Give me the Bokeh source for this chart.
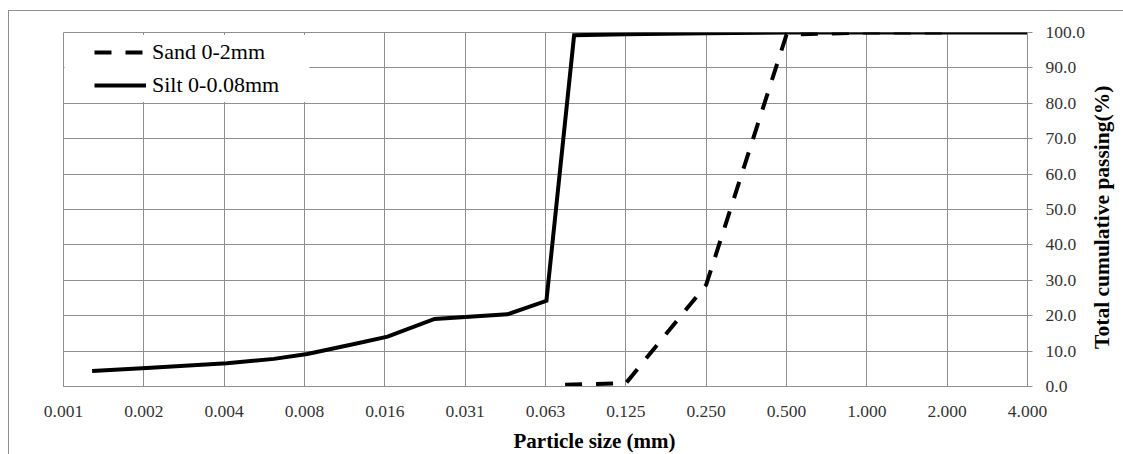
import math
from bokeh.plotting import figure
from bokeh.models import (Range1d, FixedTicker, CustomJSTickFormatter, Legend, LegendItem,
                          Title, BoxAnnotation)
from bokeh.embed import file_html
from bokeh.resources import INLINE

# ---------------- data ----------------
x_tick_labels = ["0.001", "0.002", "0.004", "0.008", "0.016", "0.031", "0.063",
                 "0.125", "0.250", "0.500", "1.000", "2.000", "4.000"]
x_tick_values = [2.0 ** k for k in range(-10, 3)]
y_tick_values = [0, 10, 20, 30, 40, 50, 60, 70, 80, 90, 100]
y_tick_labels = ["0.0", "10.0", "20.0", "30.0", "40.0", "50.0", "60.0", "70.0",
                 "80.0", "90.0", "100.0"]

series_names = ["Sand 0-2mm", "Silt 0-0.08mm"]

sand_size = [0.074, 0.125, 0.25, 0.5, 1.0, 2.0]
sand_passing = [0.5, 0.9, 28.7, 99.4, 100.0, 100.0]

silt_size = [0.00125, 0.002, 0.004, 0.006, 0.008, 0.012, 0.016, 0.024, 0.045,
             0.063, 0.08, 0.125, 0.25, 0.5, 1.0, 2.0, 4.0]
silt_passing = [4.4, 5.2, 6.6, 7.8, 9.2, 12.0, 14.1, 19.1, 20.4,
                24.2, 99.2, 99.5, 99.8, 100.0, 100.0, 100.0, 100.0]

x_title = "Particle size (mm)"
y_title = "Total cumulative passing(%)"

# ---------------- style ----------------
GRID = "#8e8e8e"
FONT = "Liberation Serif"
TICK_COLOR = "#333333"

p = figure(frame_width=964, frame_height=354, x_axis_type="log", y_axis_location="right",
           x_range=Range1d(x_tick_values[0], x_tick_values[-1]),
           y_range=Range1d(y_tick_values[0], y_tick_values[-1]),
           output_backend="svg", toolbar_location=None,
           min_border_left=54, min_border_right=96, min_border_top=21,
           min_border_bottom=68)
p.styles = {"border-left": "1px solid " + GRID, "border-top": "1px solid " + GRID,
            "margin-top": "10px", "margin-left": "8px"}
p.outline_line_color = GRID
p.outline_line_width = 1
p.background_fill_color = "white"
p.border_fill_color = "white"

# grids
p.xgrid.ticker = FixedTicker(ticks=x_tick_values)
p.ygrid.ticker = FixedTicker(ticks=y_tick_values)
for g in (p.xgrid, p.ygrid):
    g.grid_line_color = GRID
    g.grid_line_width = 1

# x axis
xa = p.xaxis[0]
xa.ticker = FixedTicker(ticks=x_tick_values)
xa.formatter = CustomJSTickFormatter(args=dict(vals=x_tick_values, labels=x_tick_labels), code="""
    let best = 0, bd = Infinity;
    for (let i = 0; i < vals.length; i++) {
        const d = Math.abs(Math.log2(vals[i]) - Math.log2(tick));
        if (d < bd) { bd = d; best = i; }
    }
    return labels[best];
""")
xa.axis_line_color = GRID
xa.major_tick_out = 0
xa.major_tick_in = 0
xa.minor_tick_line_color = None
xa.major_label_standoff = 19
xa.major_label_text_font = FONT
xa.major_label_text_font_size = "17.5px"
xa.major_label_text_color = TICK_COLOR

# y axis
ya = p.yaxis[0]
ya.ticker = FixedTicker(ticks=y_tick_values)
ya.formatter = CustomJSTickFormatter(args=dict(vals=y_tick_values, labels=y_tick_labels), code="""
    let best = 0, bd = Infinity;
    for (let i = 0; i < vals.length; i++) {
        const d = Math.abs(vals[i] - tick);
        if (d < bd) { bd = d; best = i; }
    }
    return labels[best];
""")
ya.axis_line_color = GRID
ya.major_tick_out = 5
ya.major_tick_in = 0
ya.major_tick_line_color = GRID
ya.minor_tick_line_color = None
ya.major_label_standoff = 13
ya.major_label_text_font = FONT
ya.major_label_text_font_size = "17.5px"
ya.major_label_text_color = TICK_COLOR
# axis title reads bottom-to-top; leading em/en spaces lift its start off the frame corner
ya.axis_label = "\u2003\u2002\u2005" + y_title
ya.axis_label_text_font = FONT
ya.axis_label_text_font_size = "21.5px"
ya.axis_label_text_font_style = "bold"
ya.axis_label_text_color = "black"
ya.axis_label_standoff = 14
ya.axis_label_orientation = math.pi / 2
ya.axis_label_align = "start"

# lines
r_sand = p.line(sand_size, sand_passing, line_color="black", line_width=4,
                line_dash="17 14", line_cap="butt", line_join="miter")
r_silt = p.line(silt_size, silt_passing, line_color="black", line_width=4,
                line_join="miter")

# legend background (covers grid behind legend)
box = BoxAnnotation(left=1, right=246, top=351.5, bottom=284.5,
                    left_units="screen", right_units="screen",
                    top_units="screen", bottom_units="screen",
                    fill_color="white", fill_alpha=1.0, line_color=None)
p.add_layout(box)

legend = Legend(items=[LegendItem(label=series_names[0], renderers=[r_sand]),
                       LegendItem(label=series_names[1], renderers=[r_silt])],
                location=(31, 288.5), padding=4, spacing=7, margin=0,
                glyph_width=52, glyph_height=26, label_height=26, label_standoff=6,
                label_text_font=FONT, label_text_font_size="22px",
                label_text_color="black",
                border_line_color=None, background_fill_alpha=0)
p.add_layout(legend, "center")

# x axis title (offset to the right, as in the reference)
p.add_layout(Title(text=x_title, align="left", offset=450, standoff=14,
                   text_font=FONT, text_font_size="21px", text_font_style="bold",
                   text_color="black"), "below")

open("out.html", "w").write(file_html(p, INLINE))
